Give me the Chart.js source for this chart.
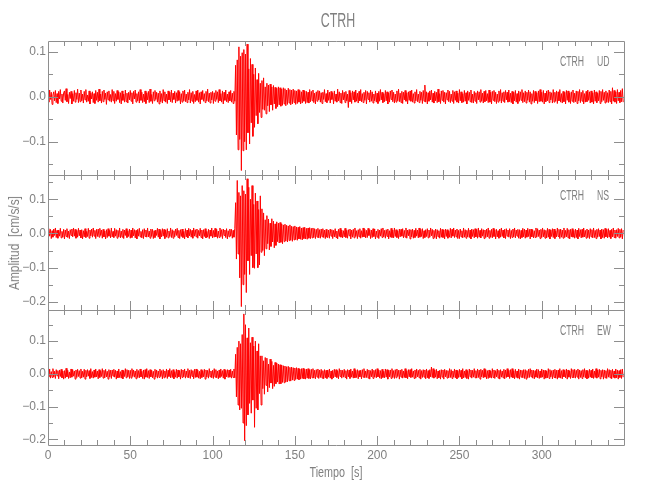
<!DOCTYPE html>
<html>
<head>
<meta charset="utf-8">
<script src="https://cdn.jsdelivr.net/npm/chart.js@4.4.0/dist/chart.umd.min.js"></script>
<style>
  body { margin: 0; background: #fff; }
  #wrap { position: relative; width: 650px; height: 500px; overflow: hidden;
          font-family: "Liberation Sans Narrow", "Liberation Sans", sans-serif; color: #808080; }
  canvas { position: absolute; left: 0; top: 0; }
  .txt { position: absolute; white-space: pre; line-height: 1; }
</style>
</head>
<body>
<div id="wrap">
  <canvas id="cUD" width="650" height="500"></canvas>
  <canvas id="cNS" width="650" height="500"></canvas>
  <canvas id="cEW" width="650" height="500"></canvas>
  <div class="txt" style="left:338px;top:20px;font-size:20px;transform:translate(-50%,-50%) scaleX(0.62);">CTRH</div>
  <div class="txt" style="left:14px;top:243px;font-size:14px;transform:translate(-50%,-50%) rotate(-90deg) scaleX(0.85);">Amplitud  [cm/s/s]</div>
  <div class="txt" style="left:336px;top:472px;font-size:14px;transform:translate(-50%,-50%) scaleX(0.77);">Tiempo  [s]</div>
</div>
<script>
/* Station and components */
const station = 'CTRH';
const components = ['UD', 'NS', 'EW'];

/* Sample times: one sample every 0.5 s from 0 to 349.5 s */
const sampleStep = 0.5;
const timeSec = Array.from({length: 700}, (_, i) => i * sampleStep);

/* Acceleration traces [cm/s/s], one row = 10 s */
const ampUD = [
  .008,-.012,.015,-.006,.010,-.017,.004,.011,-.009,.014,-.013,.007,-.015,.012,-.005,.016,-.010,.006,-.014,.009,
  .013,-.008,.018,-.011,.005,-.015,.010,-.004,.012,-.016,.007,-.010,.014,-.012,.009,-.006,.017,-.013,.008,-.011,
  .015,-.009,.006,-.014,.012,-.007,.016,-.012,.004,-.010,.013,-.016,.009,-.005,.011,-.013,.007,-.015,.014,-.008,
  .010,-.012,.017,-.009,.006,-.014,.012,-.011,.015,-.006,.008,-.017,.011,-.007,.013,-.010,.005,-.012,.016,-.009,
  .012,-.015,.007,-.010,.014,-.006,.011,-.013,.009,-.016,.013,-.008,.006,-.012,.015,-.011,.008,-.014,.010,-.007,
  .014,-.010,.009,-.016,.012,-.005,.015,-.012,.007,-.009,.011,-.014,.016,-.008,.010,-.013,.006,-.011,.013,-.015,
  .009,-.007,.012,-.013,.017,-.010,.005,-.015,.011,-.009,.014,-.006,.010,-.012,.008,-.016,.013,-.011,.007,-.014,
  .016,-.009,.011,-.012,.006,-.015,.013,-.007,.010,-.011,.015,-.013,.008,-.006,.012,-.014,.009,-.010,.014,-.008,
  .011,-.016,.007,-.012,.013,-.009,.015,-.011,.006,-.013,.010,-.007,.016,-.014,.009,-.010,.012,-.015,.005,-.011,
  .013,-.008,.015,-.012,.009,-.016,.011,-.006,.014,-.010,.007,-.013,.012,-.009,.017,-.011,.008,-.014,.010,-.007,
  .012,-.015,.009,-.010,.014,-.006,.011,-.013,.016,-.009,.007,-.012,.013,-.016,.010,-.008,.015,-.011,.006,-.013,
  .011,-.009,.014,-.012,.008,-.015,.012,-.010,.070,-.085,.082,-.118,.111,-.095,.090,-.164,.098,-.120,.105,-.100,
  .095,-.118,.117,-.080,.062,-.105,.085,-.058,.072,-.088,.050,-.068,.064,-.042,.038,-.060,.052,-.035,.030,-.046,
  .036,-.028,.042,-.030,.022,-.038,.030,-.020,.026,-.033,.028,-.018,.022,-.030,.025,-.016,.021,-.026,.019,-.022,
  .022,-.018,.020,-.021,.017,-.019,.020,-.016,.018,-.020,.015,-.017,.019,-.014,.016,-.018,.015,-.016,.017,-.013,
  .014,-.017,.013,-.015,.016,-.012,.014,-.016,.011,-.014,.015,-.010,.013,-.015,.012,-.013,.010,-.014,.016,-.011,
  .012,-.009,.015,-.013,.008,-.016,.011,-.010,.014,-.007,.013,-.012,.009,-.015,.010,-.006,.016,-.011,.007,-.013,
  .015,-.008,.010,-.014,.012,-.006,.009,-.016,.013,-.010,.006,-.012,.017,-.009,.011,-.013,.008,-.015,.014,-.007,
  .010,-.013,.012,-.009,.006,-.024,.014,-.011,.009,-.015,.013,-.007,.011,-.012,.015,-.010,.008,-.014,.012,-.009,
  .016,-.011,.007,-.013,.010,-.008,.014,-.016,.012,-.006,.009,-.012,.015,-.010,.011,-.014,.006,-.009,.013,-.012,
  .008,-.015,.012,-.010,.016,-.007,.010,-.013,.007,-.011,.014,-.009,.011,-.016,.009,-.012,.013,-.006,.015,-.011,
  .010,-.014,.006,-.012,.013,-.009,.017,-.011,.008,-.013,.012,-.015,.010,-.007,.014,-.010,.009,-.016,.011,-.008,
  .013,-.010,.015,-.012,.007,-.014,.011,-.009,.016,-.011,.006,-.013,.012,-.008,.010,-.015,.014,-.010,.026,-.012,
  .011,-.016,.009,-.010,.013,-.007,.015,-.012,.008,-.014,.012,-.009,.010,-.013,.017,-.011,.007,-.015,.013,-.008,
  .014,-.012,.010,-.016,.009,-.007,.015,-.011,.012,-.013,.006,-.010,.014,-.015,.011,-.008,.013,-.012,.008,-.014,
  .016,-.009,.011,-.013,.007,-.012,.014,-.010,.009,-.016,.013,-.008,.010,-.011,.015,-.013,.006,-.014,.012,-.010,
  .009,-.015,.013,-.007,.011,-.012,.016,-.010,.008,-.014,.012,-.011,.014,-.009,.007,-.013,.015,-.012,.010,-.016,
  .012,-.008,.014,-.011,.010,-.015,.006,-.012,.013,-.009,.016,-.014,.009,-.010,.011,-.013,.014,-.007,.010,-.012,
  .015,-.011,.008,-.013,.012,-.016,.010,-.009,.014,-.012,.007,-.015,.013,-.010,.011,-.008,.016,-.013,.009,-.011,
  .013,-.014,.010,-.008,.015,-.012,.011,-.016,.007,-.010,.014,-.013,.012,-.009,.009,-.015,.013,-.011,.016,-.010,
  .010,-.012,.014,-.016,.008,-.011,.013,-.009,.015,-.013,.011,-.007,.009,-.014,.016,-.012,.010,-.010,.013,-.015,
  .011,-.009,.016,-.012,.007,-.014,.012,-.011,.010,-.016,.014,-.008,.013,-.012,.009,-.015,.011,-.010,.015,-.013,
  .008,-.011,.013,-.015,.012,-.009,.016,-.013,.010,-.010,.014,-.016,.007,-.012,.012,-.011,.015,-.008,.011,-.014,
  .013,-.012,.009,-.016,.015,-.010,.011,-.013,.008,-.009,.014,-.015,.012,-.011,.016,-.008,.010,-.014,.013,-.012,
  .009,-.013,.015,-.011,.012,-.016,.020,-.010,.014,-.012,.011,-.015,.016,-.009,.010,-.013,.014,-.011,.018,-.012
];
const ampNS = [
  -.010,.014,-.007,.012,-.015,.008,-.011,.013,-.006,.016,-.012,.009,-.014,.010,-.008,.015,-.013,.006,-.011,.012,
  -.016,.010,-.009,.014,-.012,.007,-.015,.011,-.006,.013,-.010,.016,-.008,.012,-.014,.009,-.011,.015,-.007,.010,
  -.013,.011,-.016,.008,-.010,.014,-.012,.006,-.009,.015,-.014,.010,-.007,.013,-.011,.016,-.008,.009,-.015,.012,
  -.009,.013,-.011,.015,-.006,.010,-.014,.012,-.010,.007,-.016,.011,-.012,.014,-.008,.009,-.013,.016,-.010,.006,
  -.012,.015,-.008,.011,-.014,.009,-.010,.016,-.013,.007,-.011,.012,-.015,.010,-.006,.014,-.012,.008,-.009,.013,
  -.014,.010,-.012,.016,-.007,.011,-.013,.009,-.016,.012,-.008,.015,-.010,.006,-.013,.011,-.015,.014,-.009,.010,
  -.011,.016,-.010,.007,-.014,.013,-.009,.012,-.015,.008,-.012,.010,-.006,.015,-.011,.013,-.016,.009,-.010,.014,
  -.008,.012,-.015,.010,-.011,.014,-.013,.007,-.009,.016,-.012,.011,-.014,.008,-.010,.013,-.006,.015,-.012,.009,
  -.015,.011,-.009,.013,-.012,.006,-.016,.014,-.010,.010,-.013,.015,-.007,.012,-.011,.009,-.014,.016,-.008,.011,
  -.010,.013,-.014,.009,-.007,.015,-.012,.010,-.016,.011,-.009,.014,-.013,.006,-.011,.012,-.015,.010,-.008,.016,
  -.013,.009,-.011,.015,-.010,.012,-.014,.007,-.012,.016,-.009,.011,-.015,.013,-.006,.010,-.012,.014,-.016,.008,
  -.010,.013,-.008,.012,-.014,.009,-.011,.015,.090,-.075,.155,-.060,.120,-.130,.110,-.214,.140,-.150,.125,-.120,
  .115,-.173,.160,-.080,.135,-.120,.100,-.065,.140,-.100,.085,-.102,.118,-.060,.095,-.100,.070,-.092,.110,-.055,
  .072,-.050,.060,-.065,.040,-.045,.052,-.030,.042,-.048,.030,-.038,.043,-.025,.036,-.042,.028,-.035,.034,-.024,
  .030,-.028,.032,-.026,.028,-.030,.025,-.024,.027,-.022,.024,-.025,.022,-.021,.025,-.020,.021,-.023,.020,-.019,
  .022,-.018,.019,-.020,.018,-.016,.020,-.017,.016,-.019,.017,-.015,.018,-.016,.015,-.017,.016,-.014,.017,-.015,
  .015,-.013,.016,-.012,.014,-.015,.012,-.011,.015,-.013,.011,-.014,.013,-.010,.014,-.012,.010,-.015,.012,-.011,
  -.012,.010,-.014,.013,-.008,.011,-.015,.009,-.010,.014,-.012,.007,-.016,.012,-.009,.015,-.011,.010,-.013,.008,
  -.010,.015,-.012,.009,-.014,.011,-.007,.013,-.016,.010,-.011,.012,-.013,.016,-.009,.008,-.015,.011,-.010,.014,
  -.014,.008,-.011,.016,-.010,.012,-.013,.009,-.012,.015,-.006,.011,-.015,.010,-.012,.014,-.009,.013,-.016,.007,
  -.011,.012,-.015,.010,-.008,.014,-.012,.016,-.010,.009,-.014,.011,-.009,.013,-.016,.008,-.011,.015,-.012,.010,
  -.013,.016,-.009,.011,-.012,.008,-.015,.013,-.010,.012,-.008,.014,-.013,.009,-.011,.016,-.014,.010,-.007,.012,
  -.016,.011,-.010,.013,-.014,.009,-.012,.015,-.008,.010,-.013,.016,-.011,.012,-.009,.014,-.015,.008,-.012,.011,
  -.009,.014,-.013,.010,-.011,.016,-.007,.012,-.015,.009,-.012,.013,-.016,.011,-.010,.008,-.014,.015,-.011,.012,
  -.012,.010,-.016,.013,-.009,.011,-.014,.008,-.011,.015,-.013,.012,-.008,.016,-.012,.010,-.010,.013,-.015,.009,
  -.015,.013,-.010,.008,-.013,.016,-.011,.011,-.014,.009,-.010,.015,-.012,.010,-.016,.013,-.009,.011,-.013,.014,
  -.010,.012,-.014,.016,-.011,.009,-.013,.014,-.008,.011,-.015,.010,-.012,.013,-.010,.016,-.014,.009,-.011,.012,
  -.013,.015,-.009,.011,-.016,.012,-.010,.008,-.014,.013,-.011,.016,-.009,.010,-.013,.012,-.015,.014,-.008,.010,
  -.011,.014,-.015,.009,-.012,.013,-.010,.016,-.013,.010,-.008,.012,-.014,.011,-.016,.009,-.012,.015,-.010,.013,
  -.014,.010,-.011,.015,-.009,.012,-.016,.013,-.010,.011,-.013,.008,-.012,.016,-.011,.014,-.009,.010,-.015,.012,
  -.012,.016,-.010,.011,-.014,.009,-.013,.015,-.011,.012,-.016,.010,-.009,.014,-.012,.013,-.015,.008,-.010,.016,
  -.009,.012,-.015,.013,-.011,.010,-.014,.016,-.012,.009,-.010,.015,-.013,.011,-.016,.012,-.010,.014,-.011,.009,
  -.014,.013,-.012,.010,-.016,.015,-.009,.011,-.013,.012,-.011,.016,-.010,.009,-.014,.013,-.012,.010,-.015,.014,
  -.010,.011,-.013,.016,-.012,.009,-.015,.012,-.011,.014,-.009,.010,-.016,.013,-.012,.011,-.014,.015,-.010,.012,
  -.013,.014,-.011,.009,-.015,.012,-.010,.016,-.012,.010,-.014,.011,-.009,.015,-.013,.012,-.011,.014,-.016,.010
];
const ampEW = [
  .012,-.009,.015,-.013,.007,-.011,.016,-.010,.008,-.014,.013,-.006,.010,-.015,.012,-.008,.014,-.012,.009,-.016,
  .010,-.013,.017,-.009,.011,-.014,.006,-.012,.015,-.010,.013,-.007,.009,-.016,.012,-.011,.014,-.008,.010,-.013,
  .015,-.012,.008,-.010,.014,-.016,.011,-.009,.013,-.007,.010,-.014,.016,-.011,.007,-.013,.012,-.010,.015,-.009,
  .009,-.015,.013,-.011,.010,-.008,.016,-.013,.011,-.012,.014,-.009,.008,-.016,.013,-.010,.011,-.014,.012,-.007,
  .014,-.010,.011,-.016,.009,-.012,.015,-.011,.007,-.013,.012,-.015,.010,-.008,.016,-.012,.013,-.009,.011,-.014,
  .011,-.013,.016,-.008,.012,-.010,.009,-.015,.014,-.011,.010,-.012,.015,-.009,.008,-.014,.012,-.016,.013,-.010,
  .016,-.011,.010,-.014,.013,-.009,.011,-.012,.008,-.016,.014,-.010,.012,-.013,.009,-.011,.015,-.008,.010,-.015,
  .013,-.012,.009,-.010,.015,-.014,.011,-.008,.016,-.012,.010,-.011,.013,-.015,.007,-.010,.014,-.013,.012,-.009,
  .010,-.016,.014,-.011,.012,-.009,.015,-.013,.009,-.010,.016,-.012,.011,-.014,.013,-.008,.010,-.015,.014,-.011,
  .015,-.010,.012,-.013,.008,-.015,.013,-.011,.010,-.009,.014,-.016,.012,-.010,.011,-.013,.016,-.009,.009,-.012,
  .011,-.014,.016,-.010,.013,-.012,.009,-.015,.012,-.011,.015,-.008,.010,-.013,.014,-.016,.011,-.009,.013,-.011,
  .012,-.010,.014,-.013,.009,-.011,.015,-.012,.060,-.070,.081,-.095,.100,-.110,.092,-.105,.120,-.150,.183,-.204,
  .150,-.158,.110,-.125,.140,-.090,.095,-.120,.112,-.080,.085,-.163,.100,-.105,.070,-.110,.092,-.060,.055,-.095,
  .055,-.045,.040,-.062,.050,-.035,.048,-.055,.030,-.042,.045,-.028,.038,-.045,.026,-.038,.035,-.030,.033,-.025,
  .030,-.031,.028,-.030,.027,-.026,.025,-.027,.024,-.025,.022,-.024,.023,-.021,.020,-.022,.021,-.019,.019,-.020,
  .018,-.017,.019,-.016,.017,-.018,.015,-.016,.016,-.014,.017,-.015,.014,-.016,.015,-.013,.016,-.014,.013,-.015,
  .014,-.012,.016,-.013,.011,-.015,.013,-.010,.015,-.014,.012,-.011,.014,-.013,.010,-.015,.013,-.012,.011,-.014,
  .012,-.010,.015,-.013,.009,-.016,.011,-.012,.014,-.009,.013,-.011,.010,-.015,.016,-.008,.012,-.013,.011,-.010,
  .014,-.011,.010,-.016,.013,-.009,.012,-.014,.015,-.010,.009,-.013,.016,-.012,.011,-.011,.013,-.015,.010,-.009,
  .011,-.015,.013,-.010,.016,-.012,.009,-.011,.014,-.013,.012,-.016,.010,-.009,.015,-.014,.011,-.010,.013,-.012,
  .016,-.009,.012,-.013,.010,-.015,.014,-.011,.008,-.012,.015,-.010,.013,-.016,.011,-.009,.012,-.014,.016,-.011,
  .010,-.014,.013,-.012,.015,-.008,.011,-.016,.012,-.010,.014,-.013,.009,-.011,.016,-.012,.010,-.015,.013,-.009,
  .013,-.011,.016,-.010,.009,-.014,.012,-.013,.015,-.009,.011,-.012,.014,-.016,.010,-.011,.013,-.010,.012,-.015,
  .015,-.012,.010,-.014,.013,-.009,.021,-.011,.016,-.013,.012,-.010,.014,-.015,.009,-.012,.011,-.016,.013,-.010,
  .012,-.016,.014,-.009,.011,-.013,.010,-.012,.016,-.011,.013,-.014,.009,-.010,.015,-.012,.012,-.015,.010,-.011,
  .014,-.010,.011,-.015,.016,-.012,.009,-.011,.013,-.014,.010,-.016,.015,-.009,.012,-.013,.011,-.010,.016,-.012,
  .010,-.013,.015,-.011,.012,-.016,.014,-.009,.011,-.012,.016,-.010,.013,-.015,.010,-.014,.012,-.011,.009,-.013,
  .016,-.011,.012,-.014,.010,-.009,.015,-.013,.011,-.016,.013,-.010,.009,-.012,.014,-.015,.012,-.011,.016,-.009,
  .011,-.014,.013,-.010,.016,-.012,.010,-.015,.014,-.011,.009,-.013,.015,-.016,.012,-.010,.011,-.012,.013,-.014,
  .013,-.016,.010,-.012,.014,-.011,.016,-.009,.012,-.013,.011,-.015,.010,-.010,.015,-.012,.013,-.014,.009,-.011,
  .015,-.010,.012,-.016,.011,-.013,.009,-.012,.016,-.014,.013,-.009,.010,-.015,.012,-.011,.014,-.013,.011,-.016,
  .012,-.011,.016,-.013,.010,-.015,.013,-.009,.011,-.012,.015,-.016,.012,-.010,.009,-.014,.016,-.011,.013,-.012,
  .014,-.013,.011,-.010,.015,-.016,.012,-.011,.010,-.014,.013,-.009,.016,-.012,.011,-.015,.010,-.013,.014,-.010,
  .011,-.012,.015,-.014,.009,-.011,.016,-.013,.012,-.010,.014,-.015,.011,-.009,.013,-.016,.012,-.012,.010,-.014,
  .016,-.010,.013,-.012,.011,-.015,.014,-.011,.009,-.013,.015,-.012,.012,-.016,.010,-.011,.013,-.014,.015,-.010
];

/* Axis ranges and tick labels */
const xTickValues = [0, 50, 100, 150, 200, 250, 300];
const xTickLabels = ['0', '50', '100', '150', '200', '250', '300'];
const yRangeUD = [-0.174, 0.124];
const yRangeNS = [-0.224, 0.171];
const yRangeEW = [-0.217, 0.195];
const yTicksUD = [-0.1, 0, 0.1];
const yTicksNS = [-0.2, -0.1, 0, 0.1];
const yTicksEW = [-0.2, -0.1, 0, 0.1];
const yLabelsUD = ['\u22120.1', '0.0', '0.1'];
const yLabelsNS = ['\u22120.2', '\u22120.1', '0.0', '0.1'];
const yLabelsEW = ['\u22120.2', '\u22120.1', '0.0', '0.1'];

const axisColor = '#8e8e8e';
const textColor = '#808080';
const fontFamily = '"Liberation Sans Narrow", "Liberation Sans", sans-serif';

Chart.defaults.font.family = fontFamily;
Chart.defaults.color = textColor;

/* Draws the box, the inward ticks (IDL style) and the component label */
const framePlugin = {
    id: 'frame',
    afterDatasetsDraw(chart, args, opts) {
        const {ctx, chartArea: a} = chart;
        const x = chart.scales.x, y = chart.scales.y;
        ctx.save();
        ctx.strokeStyle = axisColor;
        ctx.lineWidth = 1;
        ctx.beginPath();
        ctx.rect(Math.round(a.left) + 0.5, Math.round(a.top) + 0.5,
                 Math.round(a.right - a.left), Math.round(a.bottom - a.top));
        /* x ticks every 10 s, major every 50 s */
        for (let v = 10; v < x.max; v += 10) {
            const px = Math.round(x.getPixelForValue(v)) + 0.5;
            const len = v % 50 === 0 ? 9 : 5;
            ctx.moveTo(px, a.top); ctx.lineTo(px, a.top + len);
            ctx.moveTo(px, a.bottom); ctx.lineTo(px, a.bottom - len);
        }
        /* y ticks every 0.05, major every 0.1 */
        for (let k = Math.ceil(y.min / 0.05); k * 0.05 <= y.max; k++) {
            const py = Math.round(y.getPixelForValue(k * 0.05)) + 0.5;
            const len = k % 2 === 0 ? 10 : 5;
            ctx.moveTo(a.left, py); ctx.lineTo(a.left + len, py);
            ctx.moveTo(a.right, py); ctx.lineTo(a.right - len, py);
        }
        ctx.stroke();
        /* station and component label, narrow like the original font */
        ctx.fillStyle = textColor;
        ctx.font = '14px ' + fontFamily;
        ctx.textBaseline = 'middle';
        ctx.textAlign = 'left';
        ctx.translate(a.right - 64, a.top + 21);
        ctx.scale(0.62, 1);
        ctx.fillText(station, 0, 0);
        ctx.fillText(opts.comp, 37 / 0.62, 0);
        ctx.restore();
    }
};

function makePanel(id, values, yRange, yTicks, yLabels, comp, padTop, padBottom, showX) {
    return new Chart(document.getElementById(id), {
        type: 'line',
        data: {
            labels: timeSec,
            datasets: [{
                label: station + ' ' + comp,
                data: values,
                borderColor: 'rgb(255,0,0)',
                borderWidth: 1,
                pointRadius: 0,
                tension: 0
            }]
        },
        options: {
            responsive: false,
            animation: false,
            events: [],
            layout: {padding: {top: padTop, bottom: padBottom, left: 0, right: 26}},
            plugins: {
                legend: {display: false},
                tooltip: {enabled: false},
                frame: {comp: comp}
            },
            scales: {
                x: {
                    type: 'linear',
                    min: 0,
                    max: 350,
                    display: showX,
                    grid: {display: false, drawTicks: false},
                    border: {display: false},
                    afterBuildTicks: (s) => { s.ticks = xTickValues.map(v => ({value: v})); },
                    afterFit: (s) => { s.height = showX ? 20 : 0; },
                    ticks: {
                        padding: 3,
                        maxRotation: 0,
                        autoSkip: false,
                        color: textColor,
                        font: {size: 12},
                        callback: (v, i) => xTickLabels[i]
                    }
                },
                y: {
                    type: 'linear',
                    min: yRange[0],
                    max: yRange[1],
                    grid: {display: false, drawTicks: false},
                    border: {display: false},
                    afterBuildTicks: (s) => { s.ticks = yTicks.map(v => ({value: v})); },
                    afterFit: (s) => { s.width = 48; },
                    ticks: {
                        padding: 2,
                        autoSkip: false,
                        color: textColor,
                        font: {size: 12},
                        callback: (v, i) => yLabels[i]
                    }
                }
            }
        },
        plugins: [framePlugin]
    });
}

makePanel('cUD', ampUD, yRangeUD, yTicksUD, yLabelsUD, components[0], 41, 325, false);
makePanel('cNS', ampNS, yRangeNS, yTicksNS, yLabelsNS, components[1], 175, 190, false);
makePanel('cEW', ampEW, yRangeEW, yTicksEW, yLabelsEW, components[2], 310, 35, true);
</script>
</body>
</html>
